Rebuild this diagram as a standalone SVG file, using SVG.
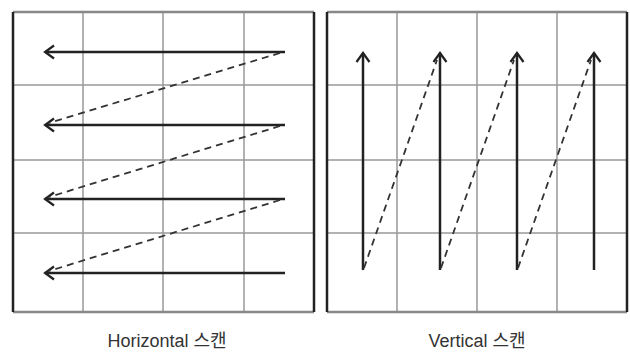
<svg xmlns="http://www.w3.org/2000/svg" width="630" height="352" viewBox="0 0 630 352">
<defs>
<style>
.grid{stroke:#999;stroke-width:1.5;fill:none}
.bh{stroke:#888;stroke-width:2.5;fill:none}
.bv{stroke:#222;stroke-width:2.5;fill:none}
.scan{stroke:#222;stroke-width:2.5;fill:none}
.ret{stroke:#333;stroke-width:1.8;fill:none;stroke-dasharray:7 5}
.lbl{font-family:"Liberation Sans","Noto Sans CJK KR",sans-serif;font-size:18px;fill:#333;text-anchor:middle}
</style>
<marker id="ah" viewBox="0 0 12 16" refX="10" refY="8" markerWidth="12" markerHeight="16" markerUnits="userSpaceOnUse" orient="auto">
<path d="M1,1.5 L10,8 L1,14.5" fill="none" stroke="#222" stroke-width="2.2"/>
</marker>
</defs>
<rect width="630" height="352" fill="#fff"/>
<g id="horizontal-panel">
<path class="grid" d="M83,12V312M163,12V312M244,12V312M13,85H314M13,160H314M13,233H314"/>
<path class="bh" d="M13,12H314M13,312H314"/>
<path class="bv" d="M13,12V312M314,12V312"/>
</g>
<g id="vertical-panel">
<path class="grid" d="M397,12V312M477,12V312M557,12V312M327,85H627M327,160H627M327,233H627"/>
<path class="bh" d="M327,12H627M327,312H627"/>
<path class="bv" d="M327,12V312M627,12V312"/>
</g>
<g id="connectors">
<line class="scan" x1="285" y1="52" x2="45" y2="52" marker-end="url(#ah)"/>
<line class="scan" x1="285" y1="125" x2="45" y2="125" marker-end="url(#ah)"/>
<line class="scan" x1="285" y1="199" x2="45" y2="199" marker-end="url(#ah)"/>
<line class="scan" x1="285" y1="273" x2="45" y2="273" marker-end="url(#ah)"/>
<line class="ret" x1="280" y1="53" x2="49" y2="123"/>
<line class="ret" x1="280" y1="126" x2="49" y2="197"/>
<line class="ret" x1="280" y1="200" x2="49" y2="271"/>
<line class="scan" x1="363" y1="270" x2="363" y2="53" marker-end="url(#ah)"/>
<line class="scan" x1="440" y1="270" x2="440" y2="53" marker-end="url(#ah)"/>
<line class="scan" x1="517" y1="270" x2="517" y2="53" marker-end="url(#ah)"/>
<line class="scan" x1="594" y1="270" x2="594" y2="53" marker-end="url(#ah)"/>
<line class="ret" x1="364" y1="268" x2="437" y2="60"/>
<line class="ret" x1="441" y1="268" x2="514" y2="60"/>
<line class="ret" x1="518" y1="268" x2="591" y2="60"/>
</g>
<g id="labels">
<text class="lbl" x="167" y="347">Horizontal 스캔</text>
<text class="lbl" x="477" y="347">Vertical 스캔</text>
</g>
</svg>
